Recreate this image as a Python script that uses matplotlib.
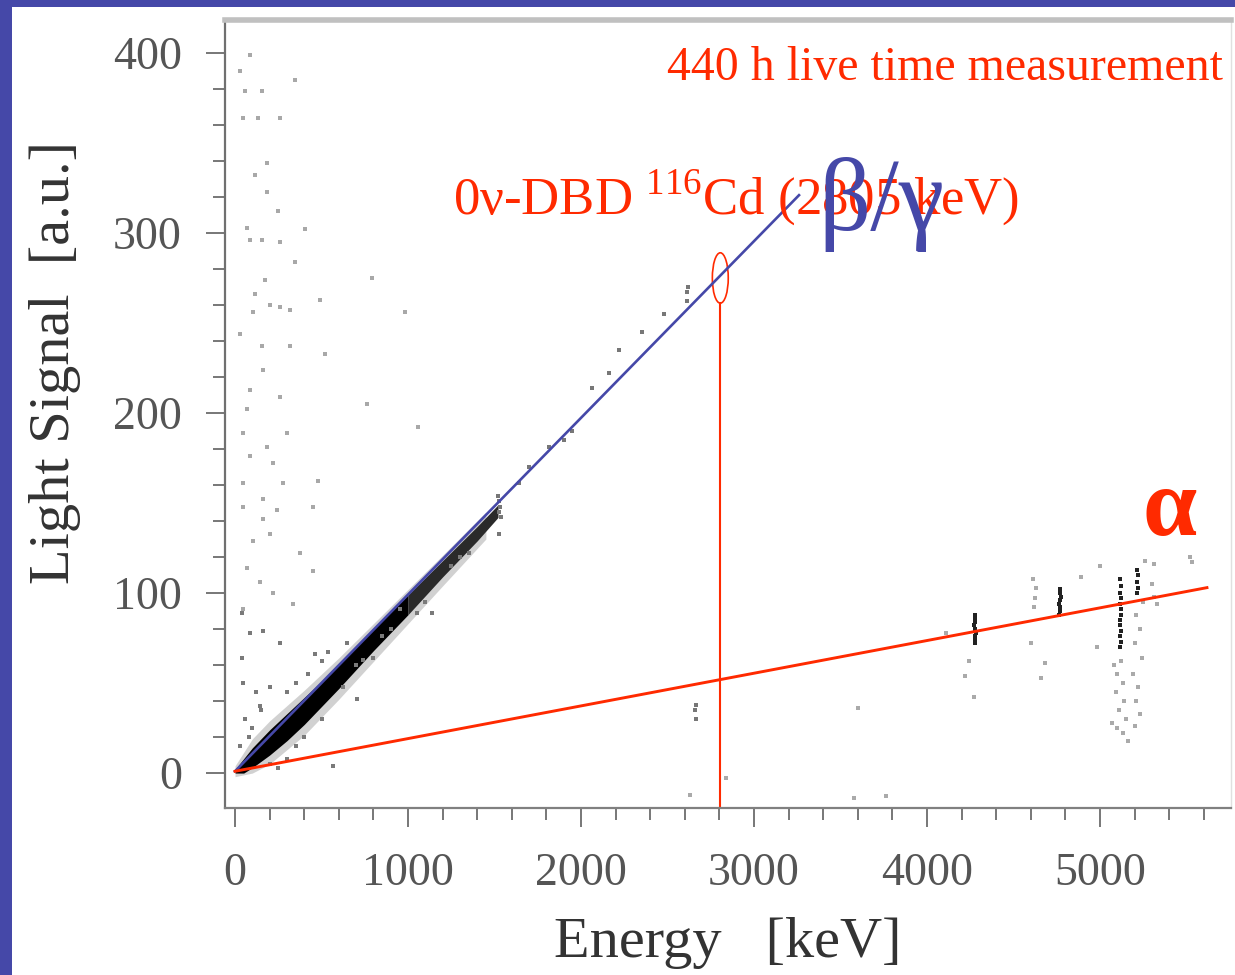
import matplotlib
matplotlib.use("Agg")
import matplotlib.pyplot as plt
from matplotlib.patches import Rectangle, Ellipse
from matplotlib.ticker import MultipleLocator

plt.rcParams['font.family'] = ['Liberation Serif', 'DejaVu Serif']
plt.rcParams['mathtext.fontset'] = 'custom'
plt.rcParams['mathtext.rm'] = 'Liberation Serif'

# --- data (energy in keV, light in a.u.) ---
# dense beta/gamma band: lower and upper edges
band_E = [0, 50, 100, 200, 300, 400, 500, 600, 800, 1000]
band_lo = [0, 0, 3, 10, 18, 27, 37, 47, 68, 88]
band_hi = [2, 8, 14, 24, 33, 42, 51, 61, 80, 99]
# thinner continuation of the band
band2_E = [1000, 1200, 1400, 1520]
band2_lo = [88, 109, 129, 142]
band2_hi = [99, 118, 137, 149]
# soft halo round the band
halo_E = [0, 100, 200, 400, 600, 800, 1000, 1200, 1450]
halo_lo = [-2, 0, 5, 21, 41, 62, 83, 104, 130]
halo_hi = [4, 19, 29, 46, 64, 83, 102, 121, 145]

# scattered points left of the band (low energy, high light)
noise_E = [86, 29, 156, 58, 346, 46, 132, 259, 184, 115, 184, 248, 69, 86, 156,
           259, 403, 346, 173, 115, 202, 317, 490, 790, 104, 259, 29, 156, 317,
           519, 980, 161, 86, 259, 761, 1055, 69, 300, 46, 184, 86, 219, 46, 277,
           478, 161, 242, 46, 450, 161, 104, 202, 375, 69, 144, 450, 219, 46, 334]
noise_L = [399, 390, 379, 379, 385, 364, 364, 364, 339, 332, 323, 312, 303, 296, 296,
           295, 302, 284, 274, 266, 260, 257, 263, 275, 256, 259, 244, 237, 237,
           233, 256, 224, 213, 209, 205, 192, 202, 189, 189, 181, 176, 172, 161, 161,
           162, 152, 146, 148, 148, 141, 129, 133, 122, 114, 106, 112, 100, 91, 94]

# points close to the band
near_E = [40, 86, 161, 40, 259, 461, 536, 46, 202, 144, 703, 622, 565, 248, 738,
          795, 951, 1049, 1141, 100, 60, 150, 120, 300, 350, 80, 30, 420, 500, 650,
          700, 850, 900, 1100, 1250, 1300, 400, 350, 200, 500, 300]
near_L = [89, 78, 79, 64, 72, 66, 67, 50, 48, 37, 41, 48, 4, 3, 63,
          64, 91, 89, 89, 25, 30, 35, 45, 45, 50, 20, 15, 55, 62, 72,
          60, 76, 80, 95, 115, 120, 20, 15, 5, 30, 8]

# beta/gamma tail above 1500 keV
tail_E = [1527, 1530, 1525, 1522, 1535, 1643, 1816, 1948, 2063, 2161, 2219, 2350,
          2480, 2611, 2615, 2620, 1354, 1527, 1700, 1900, 2663, 2660, 2665]
tail_L = [145, 148, 151, 154, 142, 161, 181, 190, 214, 222, 235, 245,
          255, 267, 262, 270, 122, 133, 170, 185, 30, 35, 38]

# alpha lines (dark streaks)
alpha_E = [4277, 4280, 4275, 4282, 4278, 4274, 4280, 4277, 4279,
           4765, 4768, 4770, 4763, 4767, 4772, 4766, 4769,
           5118, 5120, 5115, 5122, 5118, 5116, 5121, 5119, 5117, 5120, 5118, 5123, 5116,
           5216, 5218, 5214, 5217, 5215]
alpha_L = [72, 74, 76, 78, 80, 82, 84, 86, 88,
           88, 90, 92, 94, 96, 98, 100, 102,
           70, 73, 76, 79, 82, 85, 88, 91, 94, 97, 100, 104, 108,
           100, 103, 106, 110, 113]

# faint stray points in the alpha region and elsewhere
stray_E = [5080, 5100, 5130, 5090, 5140, 5110, 5150, 5100, 5130, 5160, 5070, 5120,
           5210, 5230, 5200, 5240, 5190, 5220, 5210, 5230, 5200, 5250, 5260, 5300,
           5310, 5000, 4980, 4620, 4625, 4630, 4610, 4600, 4680, 4890, 4240, 4270,
           4110, 4220, 4660, 3600, 3580, 3760, 2840, 2630, 5520, 5530, 5310, 5330]
stray_L = [60, 55, 50, 45, 40, 35, 30, 25, 22, 18, 28, 62,
           88, 80, 72, 64, 55, 48, 40, 33, 26, 95, 118, 105,
           98, 115, 70, 92, 97, 103, 108, 72, 61, 109, 62, 42,
           78, 54, 53, 36, -14, -13, -3, -12, 120, 117, 116, 94]

# overlay lines
beta_line_E = [0, 3260]
beta_line_L = [1, 321]
alpha_line_E = [0, 5618]
alpha_line_L = [1, 103]
q_value = 2805
q_light = 275

blue = '#4548A8'
red = '#FF2A00'

fig = plt.figure(figsize=(12.35, 9.75), dpi=100, facecolor=blue)
fig.patches.append(Rectangle((12 / 1235, 0), 1, 1 - 7 / 975, transform=fig.transFigure,
                             facecolor='white', edgecolor='none', zorder=-10))

ax = fig.add_axes([225 / 1235, 1 - 808 / 975, 1006 / 1235, 788 / 975])
ax.set_zorder(1)
ax.set_xlim(-58, 5757)
ax.set_ylim(-19.4, 418.3)

# events
ax.fill_between(halo_E, halo_lo, halo_hi, color='#9a9a9a', alpha=0.45, lw=0)
ax.fill_between(band_E, band_lo, band_hi, color='black', lw=0)
ax.fill_between(band2_E, band2_lo, band2_hi, color='#2a2a2a', lw=0)
ax.scatter(noise_E, noise_L, s=5, color='#a8a8a8', marker='s', lw=0)
ax.scatter(near_E, near_L, s=6, color='#7a7a7a', marker='s', lw=0)
ax.scatter(tail_E, tail_L, s=7, color='#777777', marker='s', lw=0)
ax.scatter(stray_E, stray_L, s=5, color='#aaaaaa', marker='s', lw=0)
ax.scatter(alpha_E, alpha_L, s=9, color='#222222', marker='s', lw=0)

# bands and Q-value marker
ax.plot(beta_line_E, beta_line_L, color=blue, lw=1.9)
ax.plot(alpha_line_E, alpha_line_L, color=red, lw=2.1)
ax.add_patch(Ellipse((q_value, q_light), 92, 28, fill=False, edgecolor=red, lw=1.2))
ax.plot([q_value, q_value], [-19.4, q_light - 14], color=red, lw=1.5)

# axes style
ax.xaxis.set_major_locator(MultipleLocator(1000))
ax.xaxis.set_minor_locator(MultipleLocator(200))
ax.yaxis.set_major_locator(MultipleLocator(100))
ax.yaxis.set_minor_locator(MultipleLocator(20))
ax.tick_params(which='major', length=14, width=1.4, color='#777777',
               labelsize=33, labelcolor='#555555')
ax.tick_params(axis='x', which='major', pad=18)
ax.tick_params(axis='y', which='major', pad=17)
ax.tick_params(which='minor', length=8.5, width=1.4, color='#777777')
ax.spines['left'].set_color('#707070')
ax.spines['left'].set_linewidth(1.6)
ax.spines['bottom'].set_color('#808080')
ax.spines['bottom'].set_linewidth(1.6)
ax.spines['top'].set_color('#c0c0c0')
ax.spines['top'].set_linewidth(4)
ax.spines['right'].set_color('#e0e0e0')
ax.spines['right'].set_linewidth(1)

ax.set_xlabel('Energy   [keV]', fontsize=42, color='#333333', labelpad=16)
fig.text(55 / 1235, 1 - 363 / 975, 'Light Signal  [a.u.]', fontsize=42,
         color='#333333', rotation=90, ha='center', va='center')

# annotations (figure pixel positions converted to fractions)
fig.text(667 / 1235, 1 - 80 / 975, '440 h live time measurement', color=red,
         fontsize=34.5, ha='left', va='baseline', zorder=5)
fig.text(453 / 1235, 1 - 214 / 975, '0ν-DBD $^{116}$Cd (2805 keV)', color=red,
         fontsize=38, ha='left', va='baseline', zorder=5)
fig.text(818 / 1235, 1 - 230 / 975, 'β/γ', color=blue, fontsize=74,
         ha='left', va='baseline', zorder=6)
fig.text(1143 / 1235, 1 - 535 / 975, 'α', color=red, fontsize=70,
         fontweight='bold', ha='left', va='baseline', zorder=5)

fig.savefig('out.png', dpi=100, facecolor=fig.get_facecolor())
